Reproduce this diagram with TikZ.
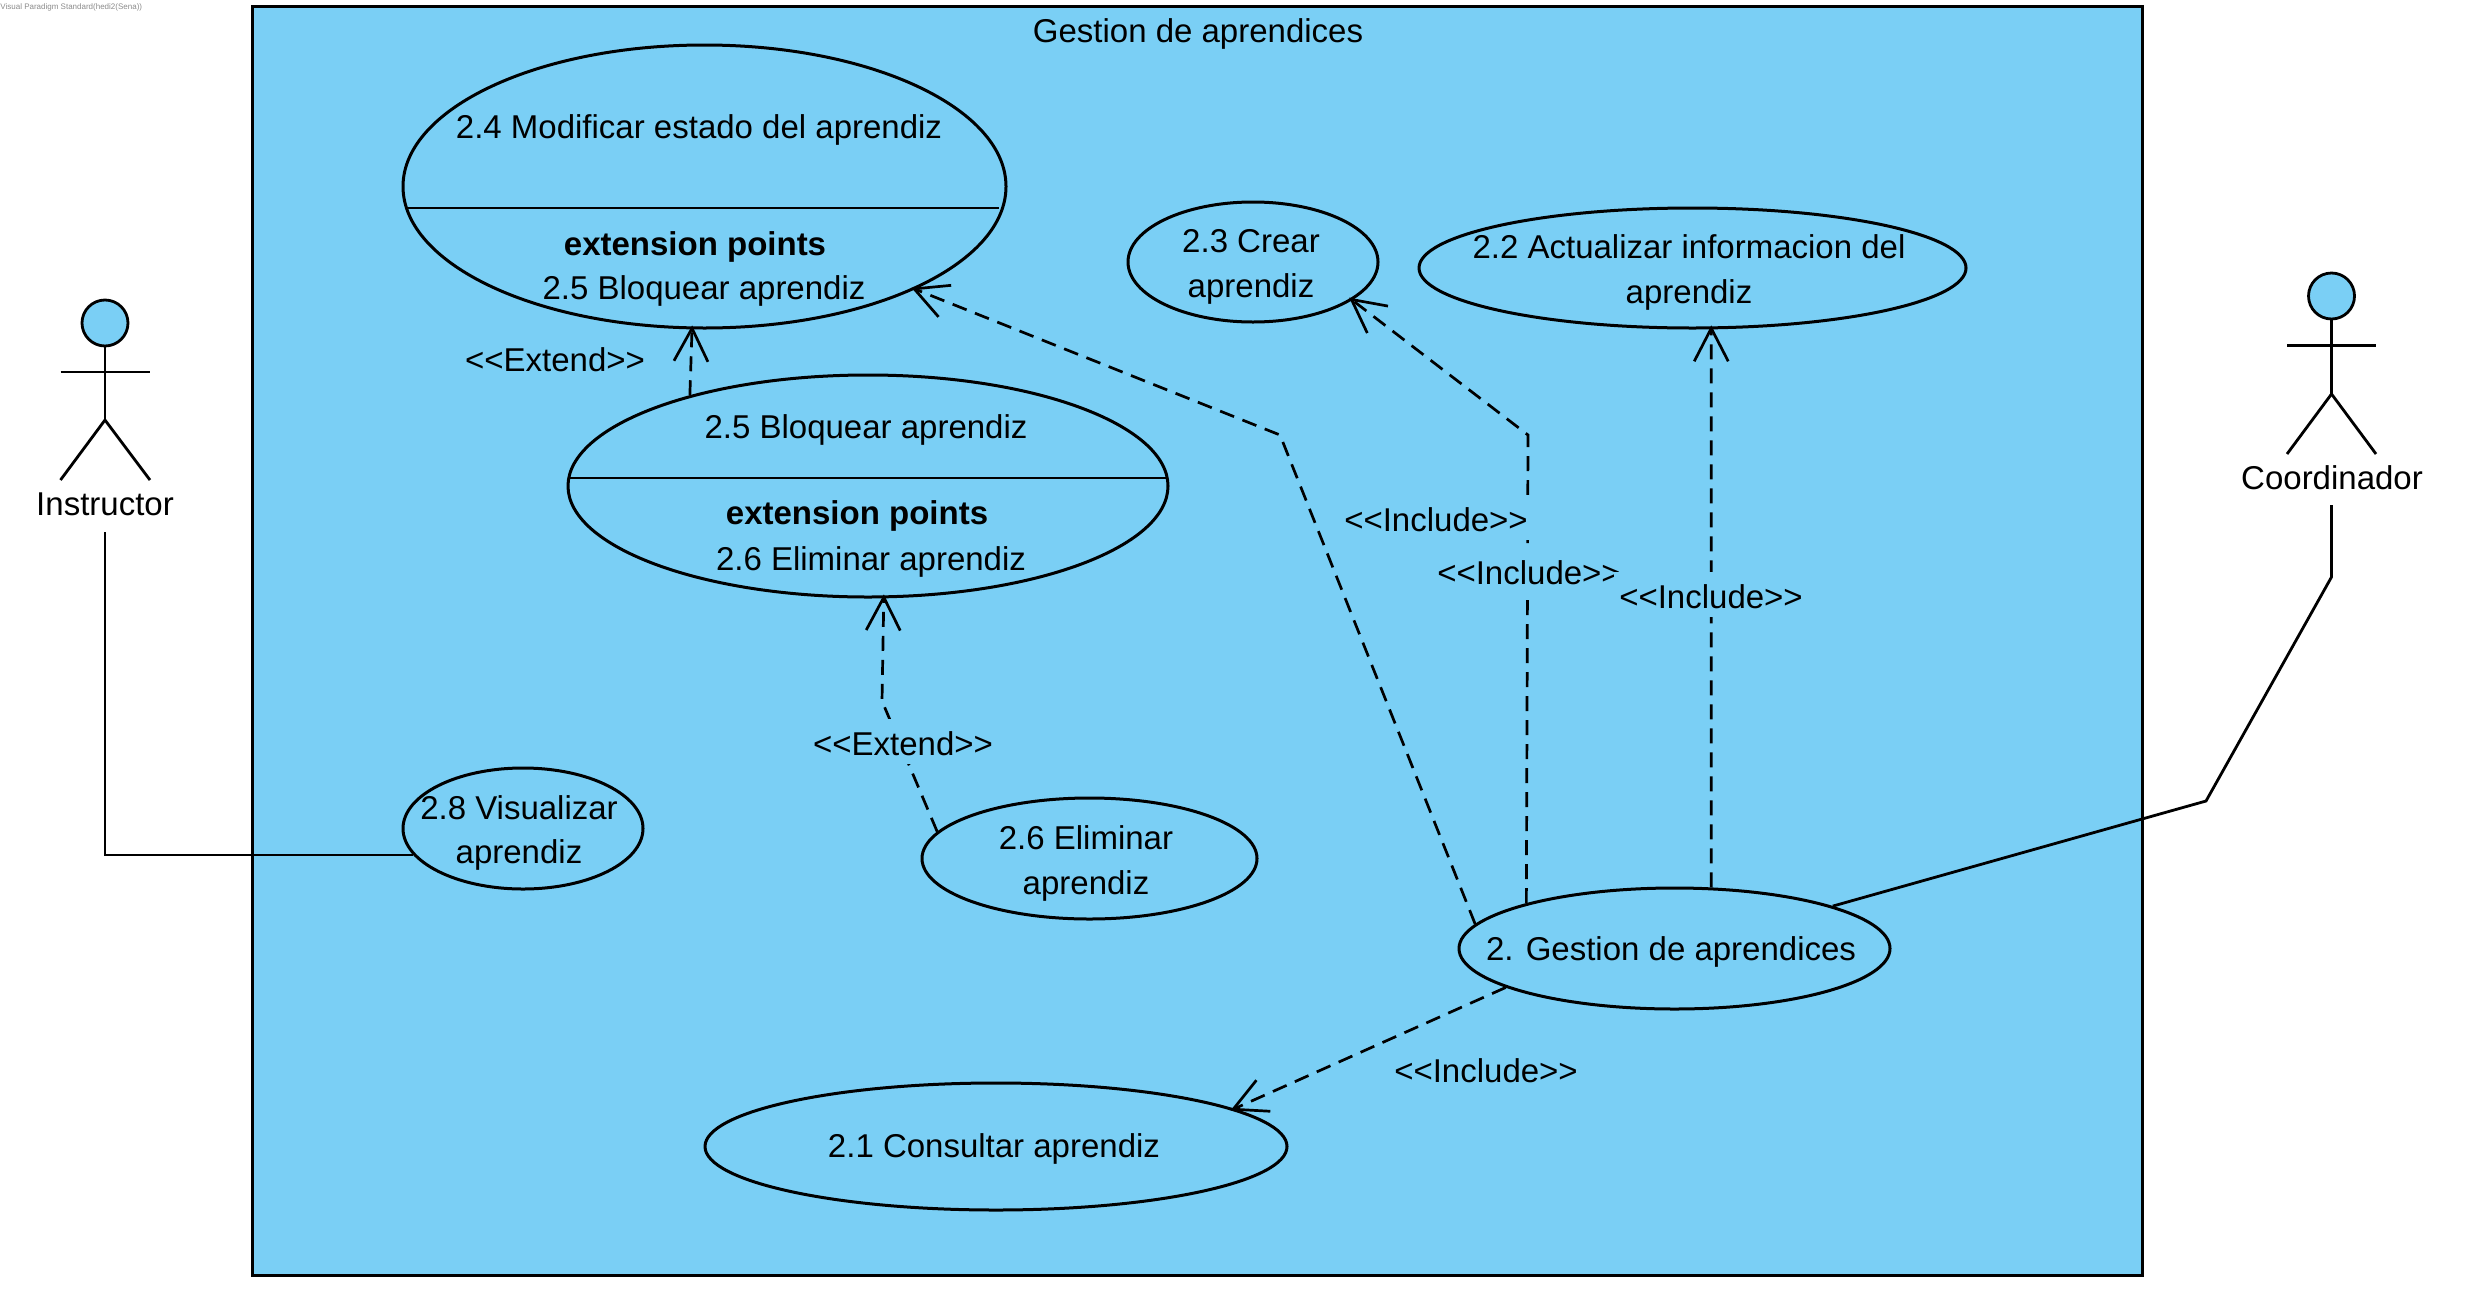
\documentclass[tikz,border=0pt]{standalone}
\usepackage{fontspec}
\setmainfont{Liberation Sans}
\usetikzlibrary{shapes.geometric,arrows.meta}
\definecolor{vpblue}{HTML}{7ACFF5}
\definecolor{vpgray}{HTML}{8C8C8C}
\tikzset{
  x=0.5pt,y=-0.5pt,
  uc/.style={ellipse,draw=black,fill=vpblue,line width=1.5pt,inner sep=0pt},
  frame/.style={draw=black,fill=vpblue,line width=1.6pt,inner sep=0pt,minimum width=945pt,minimum height=634.5pt,anchor=north west},
  txt/.style={anchor=base,inner sep=0pt,font=\fontsize{16.5}{20}\selectfont,text=black},
  boldtxt/.style={txt,font=\fontsize{16.5}{20}\selectfont\bfseries},
  lab/.style={txt,fill=vpblue,inner xsep=2.5pt,inner ysep=0pt,text height=18pt,text depth=4.5pt},
  dep/.style={draw=black,line width=1.35pt,dash pattern=on 7.5pt off 4.5pt,shorten >=-2pt,-{Straight Barb[length=16.5pt,width=17pt,line width=1.35pt]}},
  assoc/.style={draw=black,line width=1.4pt},
  stick/.style={draw=black,line width=1.4pt},
  divider/.style={draw=black,line width=1.4pt},
  head/.style={ellipse,draw=black,fill=vpblue,line width=1.4pt,inner sep=0pt,minimum width=23pt,minimum height=23pt},
}
\begin{document}
\begin{tikzpicture}
\useasboundingbox (0,0) rectangle (2466,1290);
\fill[white] (0,0) rectangle (2466,1290);
\node[anchor=base west,inner sep=0pt,text=vpgray,font=\fontsize{4}{5}\selectfont] (wm) at (0,10) {Visual Paradigm Standard(hedi2(Sena))};
\node[frame] (sys) at (251,4.5) {};
\node[txt] (systitle) at (1198,42) {Gestion de aprendices};

% use cases
\node[uc,minimum width=301.5pt,minimum height=141.5pt] (u24) at (704.5,186.5) {};
\node[uc,minimum width=300pt,minimum height=111pt] (u25) at (868,486) {};
\node[uc,minimum width=125pt,minimum height=60pt] (u23) at (1253,262) {};
\node[uc,minimum width=273.5pt,minimum height=60pt] (u22) at (1692.5,268) {};
\node[uc,minimum width=120pt,minimum height=60.5pt] (u28) at (523,828.5) {};
\node[uc,minimum width=167.5pt,minimum height=60.5pt] (u26) at (1089.5,858.5) {};
\node[uc,minimum width=291pt,minimum height=63.5pt] (u21) at (996,1146.5) {};
\node[uc,minimum width=215.5pt,minimum height=60.5pt] (u2) at (1674.5,948.5) {};

% compartment dividers
\draw[divider] ([shift={(-297,21.5)}]u24.center) -- ([shift={(294,21.5)}]u24.center);
\draw[divider] ([shift={(-299,-8)}]u25.center) -- ([shift={(298,-8)}]u25.center);

% actors
\node[head] (ah1) at (105,323) {};
\coordinate (h1) at (105,420);
\draw[stick] (ah1.south) -- (h1);
\draw[stick] (60.5,372) -- (150,372);
\draw[stick] (60.5,480) -- (h1) -- (150,480);
\node[txt] (inst) at (105,515) {Instructor};

\node[head] (ah2) at (2331.5,296) {};
\coordinate (h2) at (2331.5,394);
\draw[stick] (ah2.south) -- (h2);
\draw[stick] (2287,345.5) -- (2376,345.5);
\draw[stick] (2287,454) -- (h2) -- (2376,454);
\node[txt] (coord) at (2332,489) {Coordinador};

% connectors
\coordinate (a1s) at (105,532);
\coordinate (a1b) at (105,855);
\coordinate (a1e) at (u28.west |- a1b);
\draw[assoc,line join=miter] (a1s) -- (a1b) -- ([xshift=5.5pt]a1e);
\coordinate (a2s) at (2331.5,505);
\coordinate (a2b) at (2331.5,577);
\coordinate (a2c) at (2206,801);
\draw[assoc] (a2s) -- (a2b) -- (a2c) -- (u2.15.1);

\coordinate (b24) at (1280,435);
\draw[dep] (u2.173.3) -- (b24) -- (u24.-26.4);
\coordinate (b23) at (1528,435);
\draw[dep] (u2.163.1) -- (b23) -- (u23.-21.6);
\draw[dep] (u2.59.4) -- (u22.-73.7);
\draw[dep] (u2.193.2) -- (u21.9);
\draw[dep] (u25.153.4) -- (u24.-95.65);
\coordinate (b26) at (882,701);
\draw[dep] (u26.170.2) -- (b26) -- (u25.-82.8);

% texts in use cases
\node[txt] (t24) at (699,138) {2.4 Modificar estado del aprendiz};
\node[boldtxt] (t24e) at (695,255) {extension points};
\node[txt] (t24p) at (704,299.5) {2.5 Bloquear aprendiz};
\node[txt] (t25) at (866,438) {2.5 Bloquear aprendiz};
\node[boldtxt] (t25e) at (857,524.5) {extension points};
\node[txt] (t25p) at (871,570) {2.6 Eliminar aprendiz};
\node[txt] (t23a) at (1251,252) {2.3 Crear};
\node[txt] (t23b) at (1251,297) {aprendiz};
\node[txt] (t22a) at (1689,258) {2.2 Actualizar informacion del};
\node[txt] (t22b) at (1689,303) {aprendiz};
\node[txt] (t28a) at (519,819) {2.8 Visualizar};
\node[txt] (t28b) at (519,863) {aprendiz};
\node[txt] (t26a) at (1086,849) {2.6 Eliminar};
\node[txt] (t26b) at (1086,894) {aprendiz};
\node[txt] (t21) at (994,1157) {2.1 Consultar aprendiz};
\node[txt] (t2) at (1671,960) {2. Gestion de aprendices};

% connector labels
\node[lab] (l1) at (555,371) {<{}<Extend>{}>};
\node[lab] (l2) at (903,755) {<{}<Extend>{}>};
\node[lab] (l3) at (1436,531) {<{}<Include>{}>};
\node[lab] (l4) at (1529,584) {<{}<Include>{}>};
\node[lab] (l5) at (1711,608) {<{}<Include>{}>};
\node[lab] (l6) at (1486,1082) {<{}<Include>{}>};
\end{tikzpicture}
\end{document}
